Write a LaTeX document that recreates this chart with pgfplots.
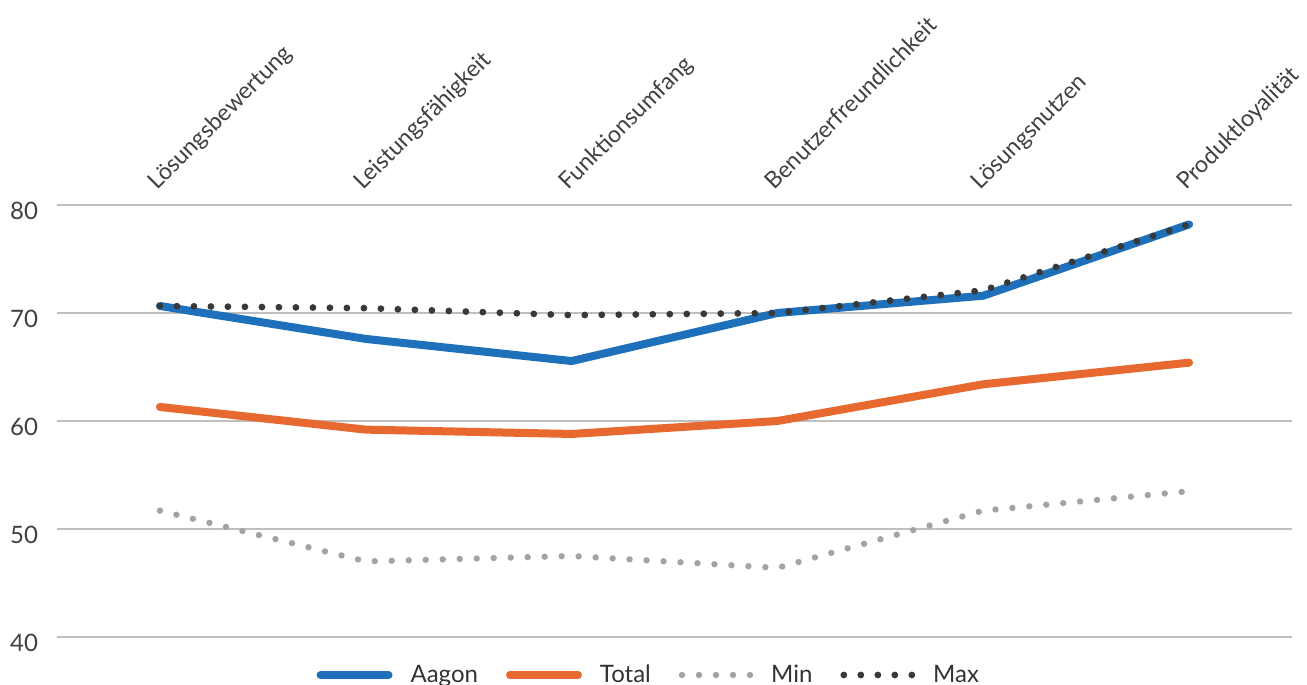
\documentclass[border=0pt]{standalone}
\usepackage{fontspec}
\setmainfont{Lato}
\usepackage{pgfplots}
\pgfplotsset{compat=1.18}
\definecolor{cAagon}{HTML}{1E70BA}
\definecolor{cTotal}{HTML}{E8692F}
\definecolor{cMin}{HTML}{A3A3A3}
\definecolor{cMax}{HTML}{383838}
\definecolor{cGrid}{HTML}{BFBFBF}
\definecolor{cTick}{HTML}{404040}
\begin{document}
\begin{tikzpicture}[font=\fontsize{12bp}{14bp}\selectfont]
\useasboundingbox (0,0) rectangle (653.5bp,342.5bp);
\begin{axis}[
  at={(28.5bp,24bp)}, anchor=south west,
  scale only axis, width=617.5bp, height=216bp,
  xmin=-0.5, xmax=5.5, ymin=40, ymax=80,
  ytick={40,50,60,70,80},
  xtick={0,1,2,3,4,5},
  xticklabels={Lösungsbewertung,Leistungsfähigkeit,Funktionsumfang,Benutzerfreundlichkeit,Lösungsnutzen,Produktloyalität},
  xticklabel pos=upper,
  xticklabel style={shift={(-1.5bp,7bp)}, rotate=45, anchor=base west, inner sep=0pt, text=black!75, font=\fontsize{11.6bp}{14bp}\selectfont},
  yticklabel style={text=cTick, xshift=-6bp, yshift=-3bp},
  /pgf/number format/assume math mode=true,
  ymajorgrids, grid style={cGrid, line width=0.8bp},
  axis line style={draw=none},
  major tick length=0pt,
  legend columns=4,
  legend style={draw=none, fill=none, at={(0.48,0)}, anchor=center, yshift=-19bp,
    font=\fontsize{12bp}{14bp}\selectfont, text=black!80,
    /tikz/every odd column/.append style={column sep=7bp},
    /tikz/every even column/.append style={column sep=12bp}},
  legend image code/.code={\draw[#1] (0bp,0bp) -- (34bp,0bp);},
  legend cell align=left,
]
\addplot[cAagon, line width=4bp, line cap=round, line join=round] coordinates {(0,70.65) (1,67.6) (2,65.55) (3,70.0) (4,71.6) (5,78.2)};
\addlegendentry{Aagon}
\addplot[cTotal, line width=4bp, line cap=round, line join=round] coordinates {(0,61.3) (1,59.2) (2,58.8) (3,60.0) (4,63.4) (5,65.4)};
\addlegendentry{Total}
\addplot[cMin, line width=3.2bp, line cap=round, dash pattern=on 0bp off 8.5bp] coordinates {(0,51.7) (1,47.0) (2,47.5) (3,46.4) (4,51.7) (5,53.5)};
\addlegendentry{Min}
\addplot[cMax, line width=3.4bp, line cap=round, dash pattern=on 0bp off 8.5bp] coordinates {(0,70.65) (1,70.45) (2,69.8) (3,70.0) (4,72.1) (5,78.2)};
\addlegendentry{Max}
\end{axis}
\end{tikzpicture}
\end{document}
